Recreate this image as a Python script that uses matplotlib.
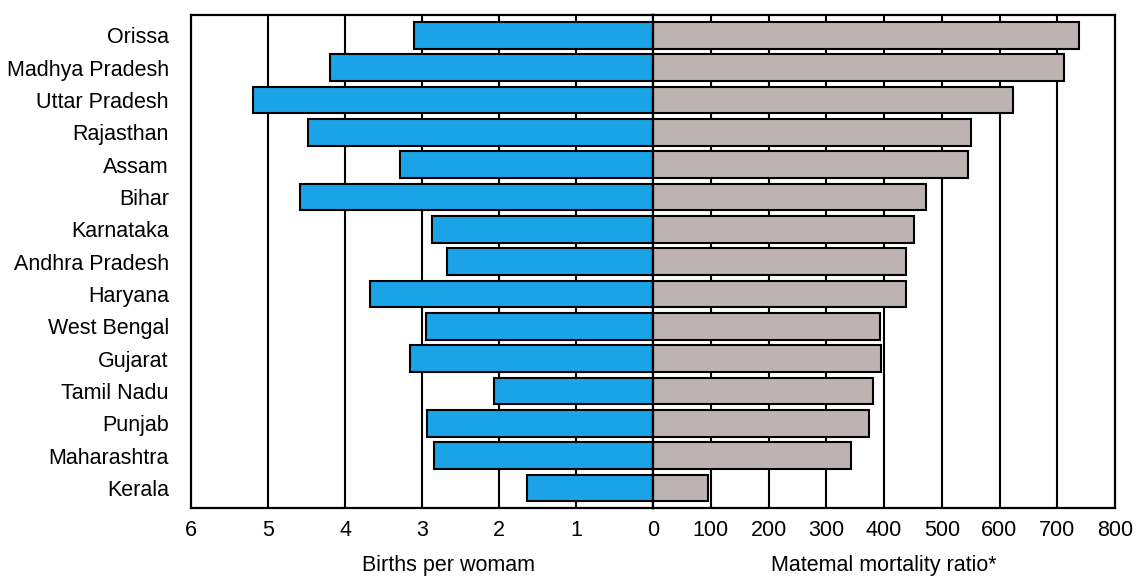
import matplotlib
matplotlib.use("Agg")
import matplotlib.pyplot as plt

plt.rcParams["font.family"] = ["Liberation Sans", "DejaVu Sans"]

states = [
    "Orissa", "Madhya Pradesh", "Uttar Pradesh", "Rajasthan", "Assam", "Bihar",
    "Karnataka", "Andhra Pradesh", "Haryana", "West Bengal", "Gujarat",
    "Tamil Nadu", "Punjab", "Maharashtra", "Kerala",
]
births = [3.10, 4.19, 5.19, 4.48, 3.29, 4.58, 2.87, 2.68, 3.68, 2.95, 3.16, 2.06, 2.94, 2.84, 1.64]
mmr = [738, 712, 623, 551, 545, 473, 452, 438, 438, 393, 395, 381, 374, 343, 95]

left_ticks = [6, 5, 4, 3, 2, 1, 0]
right_ticks = [100, 200, 300, 400, 500, 600, 700, 800]
left_label = "Births per womam"
right_label = "Matemal mortality ratio*"

BLUE = "#1ba3e8"
GREY = "#bdb3b3"
FS = 15.5

fig = plt.figure(figsize=(11.38, 5.76), dpi=100)
W, H = 1138.0, 576.0
x0, xm, x1 = 191 / W, 653 / W, 1115 / W
ybot, ytop = 1 - 508 / H, 1 - 15 / H

axl = fig.add_axes([x0, ybot, xm - x0, ytop - ybot])
axr = fig.add_axes([xm, ybot, x1 - xm, ytop - ybot])

ypos = list(range(len(states)))

for ax in (axl, axr):
    ax.set_ylim(len(states) - 1 + 0.62, -0.63)
    ax.tick_params(axis="both", length=0)
    for s in ax.spines.values():
        s.set_linewidth(1.6)
        s.set_color("black")

# left panel: births per woman
axl.set_xlim(6, 0)
for t in range(1, 6):
    axl.axvline(t, color="black", lw=1.5, zorder=1)
axl.barh(ypos, births, height=0.83, color=BLUE, edgecolor="black", lw=1.5, zorder=2)
axl.set_yticks(ypos)
axl.set_yticklabels(states, fontsize=FS)
axl.tick_params(axis="y", pad=16)
axl.set_xticks(left_ticks)
axl.set_xticklabels([str(t) for t in left_ticks], fontsize=FS)
axl.tick_params(axis="x", pad=9)
axl.set_xlabel(left_label, fontsize=FS)
axl.xaxis.set_label_coords((449 - 191) / 462, -0.095)

# right panel: maternal mortality ratio
axr.set_xlim(0, 800)
for t in range(100, 800, 100):
    axr.axvline(t, color="black", lw=1.5, zorder=1)
axr.barh(ypos, mmr, height=0.83, color=GREY, edgecolor="black", lw=1.5, zorder=2)
axr.set_yticks([])
axr.set_xticks(right_ticks)
axr.set_xticklabels([str(t) for t in right_ticks], fontsize=FS)
axr.tick_params(axis="x", pad=9)
axr.set_xlabel(right_label, fontsize=FS)
axr.xaxis.set_label_coords(0.5, -0.095)

fig.savefig("out.png", dpi=100)
